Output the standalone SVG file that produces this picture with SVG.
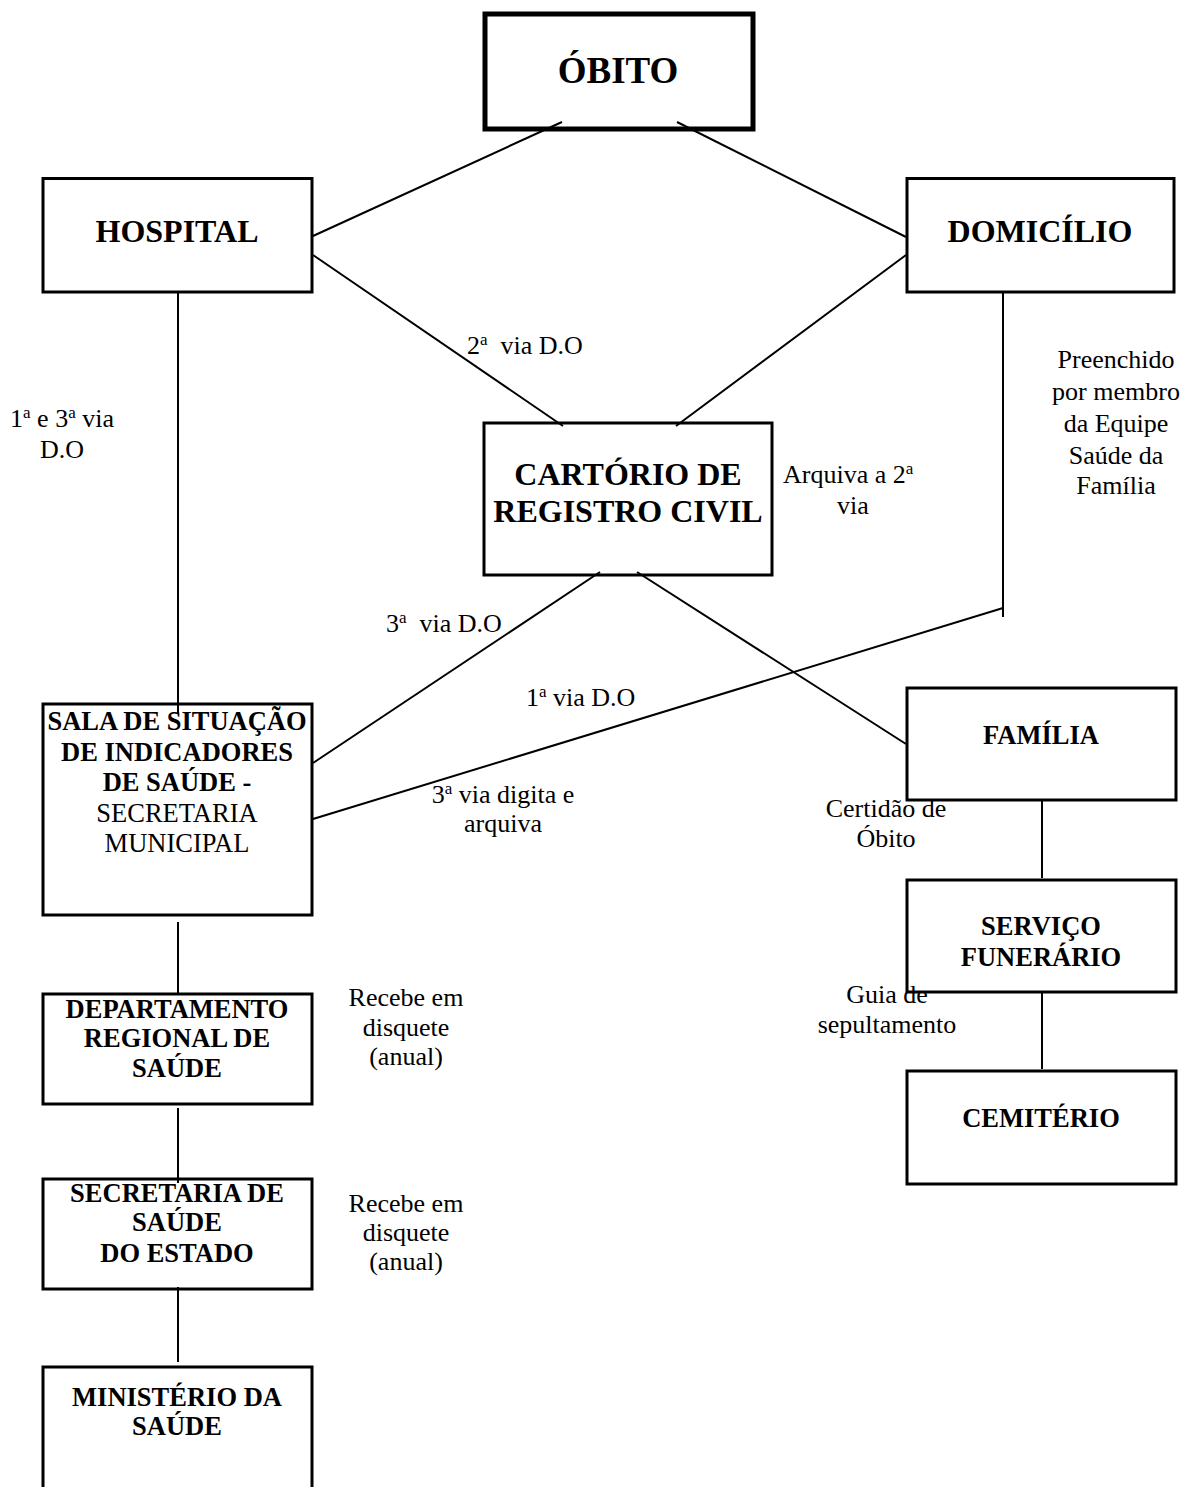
<svg xmlns="http://www.w3.org/2000/svg" width="1190" height="1487" viewBox="0 0 1190 1487">
<style>
text{font-family:"Liberation Serif","Times New Roman",serif;fill:#000;text-anchor:middle}
.box{fill:#fff;stroke:#000;stroke-width:3}
.big{font-weight:bold;font-size:32px}
.bold{font-weight:bold;font-size:26.5px}
.reg{font-size:26.5px}
.lbl{font-size:26px}
.sup{font-size:17px}
#connectors line{stroke:#000;stroke-width:2}
</style>
<rect width="1190" height="1487" fill="#fff"/>
<g id="obito">
<rect x="485" y="14" width="268" height="115" fill="#fff" stroke="#000" stroke-width="5"/>
<text x="618" y="83" font-weight="bold" font-size="37">ÓBITO</text>
</g>
<g id="hospital">
<rect class="box" x="43" y="178.5" width="269" height="113.5"/>
<text class="big" x="177" y="242">HOSPITAL</text>
</g>
<g id="domicilio">
<rect class="box" x="907" y="178.5" width="267" height="113.5"/>
<text class="big" x="1040" y="242">DOMICÍLIO</text>
</g>
<g id="cartorio">
<rect class="box" x="484" y="423" width="288" height="152"/>
<text class="big" x="628" y="485">CARTÓRIO DE</text>
<text class="big" x="628" y="522">REGISTRO CIVIL</text>
</g>
<g id="sala">
<rect class="box" x="43" y="704" width="269" height="211"/>
<text class="bold" x="177" y="730">SALA DE SITUAÇÃO</text>
<text class="bold" x="177" y="761">DE INDICADORES</text>
<text class="bold" x="177" y="791">DE SAÚDE -</text>
<text class="reg" x="177" y="822">SECRETARIA</text>
<text class="reg" x="177" y="852">MUNICIPAL</text>
</g>
<g id="familia">
<rect class="box" x="907" y="688" width="269" height="112"/>
<text class="bold" x="1041" y="744">FAMÍLIA</text>
</g>
<g id="servico">
<rect class="box" x="907" y="880" width="269" height="112"/>
<text class="bold" x="1041" y="935">SERVIÇO</text>
<text class="bold" x="1041" y="966">FUNERÁRIO</text>
</g>
<g id="cemiterio">
<rect class="box" x="907" y="1071" width="269" height="113"/>
<text class="bold" x="1041" y="1127">CEMITÉRIO</text>
</g>
<g id="departamento">
<rect class="box" x="43" y="994" width="269" height="110"/>
<text class="bold" x="177" y="1018">DEPARTAMENTO</text>
<text class="bold" x="177" y="1047">REGIONAL DE</text>
<text class="bold" x="177" y="1077">SAÚDE</text>
</g>
<g id="secretaria">
<rect class="box" x="43" y="1179" width="269" height="110"/>
<text class="bold" x="177" y="1202">SECRETARIA DE</text>
<text class="bold" x="177" y="1231">SAÚDE</text>
<text class="bold" x="177" y="1262">DO ESTADO</text>
</g>
<g id="ministerio">
<rect class="box" x="43" y="1367" width="269" height="140"/>
<text class="bold" x="177" y="1406">MINISTÉRIO DA</text>
<text class="bold" x="177" y="1435">SAÚDE</text>
</g>
<g id="connectors">
<line x1="562" y1="122" x2="313" y2="236"/>
<line x1="677" y1="122" x2="906" y2="237"/>
<line x1="313" y1="255" x2="563" y2="426"/>
<line x1="906" y1="255" x2="676" y2="426"/>
<line x1="178" y1="293" x2="178" y2="713"/>
<line x1="1003" y1="293" x2="1003" y2="617"/>
<line x1="1003" y1="608" x2="313" y2="819"/>
<line x1="600" y1="572" x2="313" y2="763"/>
<line x1="637" y1="572" x2="906" y2="744"/>
<line x1="178" y1="922" x2="178" y2="995"/>
<line x1="178" y1="1108" x2="178" y2="1183"/>
<line x1="178" y1="1287" x2="178" y2="1362"/>
<line x1="1042" y1="801" x2="1042" y2="878"/>
<line x1="1042" y1="993" x2="1042" y2="1069"/>
</g>
<g id="labels">
<text class="lbl" x="62" y="427">1<tspan class="sup" dy="-9">a</tspan><tspan dy="9"> e 3</tspan><tspan class="sup" dy="-9">a</tspan><tspan dy="9"> via</tspan></text>
<text class="lbl" x="62" y="458">D.O</text>
<text class="lbl" x="467" y="354" style="text-anchor:start">2<tspan class="sup" dy="-9">a</tspan><tspan dy="9" xml:space="preserve">  via D.O</tspan></text>
<text class="lbl" x="783" y="483" style="text-anchor:start">Arquiva a 2<tspan class="sup" dy="-9">a</tspan></text>
<text class="lbl" x="853" y="514">via</text>
<text class="lbl" x="1116" y="368">Preenchido</text>
<text class="lbl" x="1116" y="400">por membro</text>
<text class="lbl" x="1116" y="432">da Equipe</text>
<text class="lbl" x="1116" y="464">Saúde da</text>
<text class="lbl" x="1116" y="494">Família</text>
<text class="lbl" x="386" y="632" style="text-anchor:start">3<tspan class="sup" dy="-9">a</tspan><tspan dy="9" xml:space="preserve">  via D.O</tspan></text>
<text class="lbl" x="526" y="706" style="text-anchor:start">1<tspan class="sup" dy="-9">a</tspan><tspan dy="9"> via D.O</tspan></text>
<text class="lbl" x="503" y="803">3<tspan class="sup" dy="-9">a</tspan><tspan dy="9"> via digita e</tspan></text>
<text class="lbl" x="503" y="832">arquiva</text>
<text class="lbl" x="886" y="817">Certidão de</text>
<text class="lbl" x="886" y="847">Óbito</text>
<text class="lbl" x="887" y="1003">Guia de</text>
<text class="lbl" x="887" y="1033">sepultamento</text>
<text class="lbl" x="406" y="1006">Recebe em</text>
<text class="lbl" x="406" y="1036">disquete</text>
<text class="lbl" x="406" y="1065">(anual)</text>
<text class="lbl" x="406" y="1212">Recebe em</text>
<text class="lbl" x="406" y="1241">disquete</text>
<text class="lbl" x="406" y="1270">(anual)</text>
</g>
</svg>
